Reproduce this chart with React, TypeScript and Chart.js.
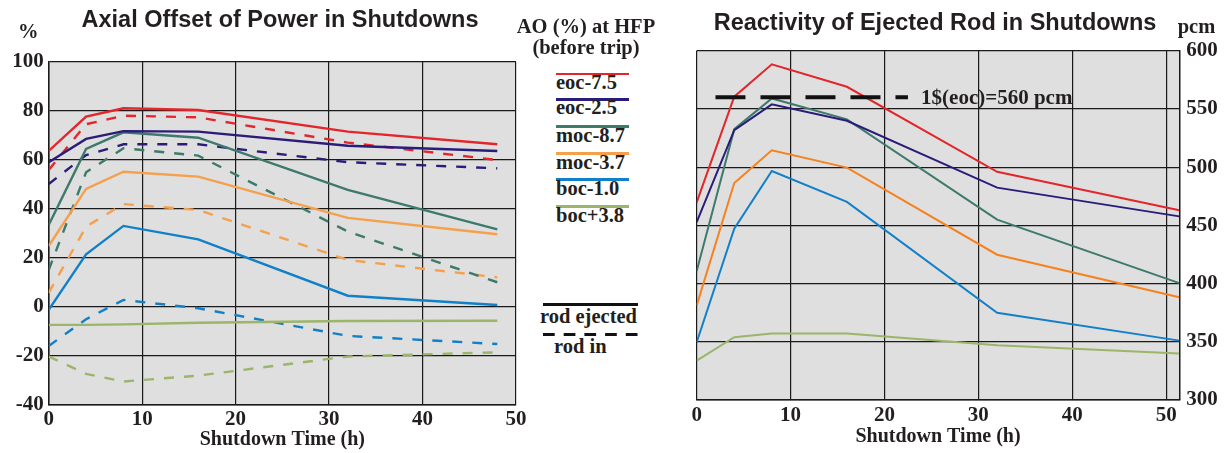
import React, { useEffect, useRef } from "react";
import { Chart, registerables } from "chart.js";

Chart.register(...registerables);

// ---- Axial offset (%) after trip, left panel ----
const hoursAO = [0, 4, 8, 16, 32, 48];

// rod ejected (solid)
const aoEoc75Ejected = [63.7, 77.7, 81.1, 80.4, 71.6, 66.4];
const aoEoc25Ejected = [59.1, 68.6, 71.8, 71.6, 65.8, 63.7];
const aoMoc87Ejected = [33.5, 64.5, 71.3, 69.1, 47.8, 31.7];
const aoMoc37Ejected = [24.9, 48.2, 55.2, 53.2, 36.4, 29.7];
const aoBoc10Ejected = [-1.2, 21.5, 33.1, 27.6, 4.6, 0.8];
const aoBoc38Ejected = [-7.3, -7.3, -7.1, -6.4, -5.7, -5.6];

// rod in (dashed)
const aoEoc75In = [55.9, 74.6, 78.1, 77.4, 67.1, 60.0];
const aoEoc25In = [50.2, 62.0, 66.4, 66.4, 59.1, 56.6];
const aoMoc87In = [15.1, 55.0, 64.8, 61.8, 30.8, 10.1];
const aoMoc37In = [5.8, 32.8, 42.0, 39.6, 19.2, 12.1];
const aoBoc10In = [-15.9, -5.0, 2.9, -0.5, -11.8, -15.1];
const aoBoc38In = [-20.2, -27.3, -30.4, -28.0, -20.2, -18.5];

const aoTicksX = { min: 0, max: 50, step: 10 };
const aoTicksY = { min: -40, max: 100, step: 20 };

// ---- Ejected rod worth (pcm), right panel ----
const hoursRho = [0, 4, 8, 16, 32, 51.4];
const rhoEoc75 = [469.8, 560.5, 588.3, 569.0, 496.0, 463.0];
const rhoEoc25 = [452.8, 531.8, 553.9, 539.8, 482.4, 457.7];
const rhoMoc87 = [410.7, 532.6, 559.0, 541.0, 454.9, 400.4];
const rhoMoc37 = [381.2, 486.4, 514.5, 499.6, 424.8, 388.3];
const rhoBoc10 = [349.6, 447.2, 496.7, 470.1, 374.9, 351.0];
const rhoBoc38 = [333.8, 353.9, 357.2, 357.2, 347.0, 340.0];

const rhoTicksX = { min: 0, max: 51.4, step: 10 };
const rhoTicksY = { min: 300, max: 600, step: 50 };

// one-dollar reference level at end of cycle
const dollarLevel = 560;
const dollarFrom = 2;
const dollarTo = 22.5;
const dollarLabelAt = 23.9;
const dollarLabel = "1$(eoc)=560 pcm";

const legendNames = ["eoc-7.5", "eoc-2.5", "moc-8.7", "moc-3.7", "boc-1.0", "boc+3.8"];

const INK = "#231f20";
const SERIF = "'Liberation Serif', 'Times New Roman', serif";
const SANS = "'Liberation Sans', Arial, sans-serif";

const colorsAO = ["#e3262b", "#2b1c7a", "#3d7a6c", "#f5a04c", "#1180c8", "#9bb56a"];
const colorsRho = ["#e3262b", "#2b1c7a", "#3d7a6c", "#f5821f", "#1180c8", "#9bb56a"];

const plotBackground = {
  id: "plotBackground",
  beforeDraw(chart: any) {
    const { ctx, chartArea } = chart;
    ctx.save();
    ctx.fillStyle = "#dfdfdf";
    ctx.fillRect(chartArea.left, chartArea.top, chartArea.right - chartArea.left, chartArea.bottom - chartArea.top);
    ctx.restore();
  },
};

const dollarText = {
  id: "dollarText",
  afterDatasetsDraw(chart: any) {
    const { ctx, scales } = chart;
    ctx.save();
    ctx.font = `bold 21px ${SERIF}`;
    ctx.fillStyle = INK;
    ctx.textBaseline = "alphabetic";
    ctx.textAlign = "left";
    ctx.fillText(dollarLabel, scales.x.getPixelForValue(dollarLabelAt), scales.y.getPixelForValue(dollarLevel) + 7);
    ctx.restore();
  },
};

function series(xs: number[], ys: number[], color: string, width: number, dash: number[]) {
  return {
    data: xs.map((x, i) => ({ x, y: ys[i] })),
    borderColor: color,
    backgroundColor: color,
    borderWidth: width,
    borderDash: dash,
    pointRadius: 0,
    tension: 0,
    fill: false,
  };
}

const tickFont = { family: SERIF, weight: "bold" as const, size: 21 };
const titleFont = { family: SERIF, weight: "bold" as const, size: 20 };
const gridStyle = { color: "#1a1a1a", lineWidth: 1.2, drawTicks: false };
const borderStyle = { display: true, color: "#1a1a1a", width: 1.5 };

function AxialOffsetChart() {
  const ref = useRef<HTMLCanvasElement>(null);
  useEffect(() => {
    const ejected = [aoEoc75Ejected, aoEoc25Ejected, aoMoc87Ejected, aoMoc37Ejected, aoBoc10Ejected, aoBoc38Ejected];
    const rodIn = [aoEoc75In, aoEoc25In, aoMoc87In, aoMoc37In, aoBoc10In, aoBoc38In];
    const datasets = [
      ...ejected.map((v, i) => series(hoursAO, v, colorsAO[i], 2.4, [])),
      ...rodIn.map((v, i) => series(hoursAO, v, colorsAO[i], 2.4, [10, 10])),
    ];
    const chart = new Chart(ref.current!, {
      type: "line",
      data: { datasets },
      options: {
        animation: false,
        responsive: false,
        events: [],
        layout: { padding: { left: 0, top: 62, right: 19, bottom: 0 } },
        plugins: { legend: { display: false }, tooltip: { enabled: false } },
        scales: {
          x: {
            type: "linear",
            min: aoTicksX.min,
            max: aoTicksX.max,
            ticks: { stepSize: aoTicksX.step, padding: 2, font: tickFont, color: INK },
            grid: gridStyle,
            border: borderStyle,
            title: { display: true, text: "Shutdown Time (h)", font: titleFont, color: INK, padding: { top: 0, bottom: 1 } },
            afterFit: (s: any) => { s.height = 48; },
          },
          y: {
            type: "linear",
            min: aoTicksY.min,
            max: aoTicksY.max,
            ticks: { stepSize: aoTicksY.step, padding: 5, font: tickFont, color: INK },
            grid: gridStyle,
            border: borderStyle,
            afterFit: (s: any) => { s.width = 48.7; },
          },
        },
      } as any,
      plugins: [plotBackground],
    });
    return () => chart.destroy();
  }, []);
  return <canvas ref={ref} width={535} height={453} style={{ position: "absolute", left: 0, top: 0 }} />;
}

function RodWorthChart() {
  const ref = useRef<HTMLCanvasElement>(null);
  useEffect(() => {
    const worth = [rhoEoc75, rhoEoc25, rhoMoc87, rhoMoc37, rhoBoc10, rhoBoc38];
    const datasets = [
      series([dollarFrom, dollarTo], [dollarLevel, dollarLevel], "#111111", 4, [30, 15]),
      ...worth.map((v, i) => series(hoursRho, v, colorsRho[i], 2, [])),
    ];
    const chart = new Chart(ref.current!, {
      type: "line",
      data: { datasets },
      options: {
        animation: false,
        responsive: false,
        events: [],
        layout: { padding: { left: 46.7, top: 50.7, right: 0, bottom: 0 } },
        plugins: { legend: { display: false }, tooltip: { enabled: false } },
        scales: {
          x: {
            type: "linear",
            min: rhoTicksX.min,
            max: rhoTicksX.max,
            ticks: { stepSize: rhoTicksX.step, includeBounds: false, padding: 3.4, font: tickFont, color: INK },
            grid: gridStyle,
            border: borderStyle,
            title: { display: true, text: "Shutdown Time (h)", font: titleFont, color: INK, padding: { top: 0, bottom: 4.3 } },
            afterFit: (s: any) => { s.height = 53; },
          },
          y: {
            type: "linear",
            position: "right",
            min: rhoTicksY.min,
            max: rhoTicksY.max,
            ticks: { stepSize: rhoTicksY.step, padding: 7, font: tickFont, color: INK },
            grid: gridStyle,
            border: borderStyle,
            afterFit: (s: any) => { s.width = 47.7; },
          },
        },
      } as any,
      plugins: [plotBackground, dollarText],
    });
    return () => chart.destroy();
  }, []);
  return <canvas ref={ref} width={577} height={453} style={{ position: "absolute", left: 650, top: 0 }} />;
}

// Text placed by its baseline, with line-height 1
function Txt(props: { x: number; base: number; size: number; sans?: boolean; center?: boolean; children: React.ReactNode }) {
  const { x, base, size, sans, center, children } = props;
  const k = sans ? 0.8465 : 0.8375;
  return (
    <div
      style={{
        position: "absolute",
        left: x,
        top: base - k * size,
        transform: center ? "translateX(-50%)" : undefined,
        fontFamily: sans ? SANS : SERIF,
        fontWeight: "bold",
        fontSize: size,
        lineHeight: `${size}px`,
        whiteSpace: "nowrap",
        color: INK,
      }}
    >
      {children}
    </div>
  );
}

function Legend() {
  const lineYs = [74, 99.5, 126.7, 153.7, 179.7, 206.7];
  return (
    <>
      <Txt x={586} base={32.7} size={20.5} center>AO (%) at HFP</Txt>
      <Txt x={586} base={54.5} size={20.5} center>(before trip)</Txt>
      {legendNames.map((name, i) => (
        <React.Fragment key={name}>
          <div style={{ position: "absolute", left: 556, top: lineYs[i] - 1.25, width: 73, height: 2.5, background: colorsAO[i] }} />
          <Txt x={556} base={lineYs[i] + 15} size={20.5}>{name}</Txt>
        </React.Fragment>
      ))}
      <div style={{ position: "absolute", left: 543, top: 302.5, width: 95, height: 3, background: "#111" }} />
      <Txt x={540} base={323} size={20.5}>rod ejected</Txt>
      <svg style={{ position: "absolute", left: 543, top: 332 }} width={96} height={5}>
        <line x1={0} y1={2.5} x2={96} y2={2.5} stroke="#111" strokeWidth={3} strokeDasharray="11.7 9" />
      </svg>
      <Txt x={554} base={353.3} size={20.5}>rod in</Txt>
    </>
  );
}

export default function App() {
  return (
    <div style={{ position: "fixed", left: 0, top: 0, width: 1227, height: 453, background: "#fff", overflow: "hidden" }}>
      <AxialOffsetChart />
      <RodWorthChart />
      <Txt x={280} base={28.3} size={23.5} sans center>Axial Offset of Power in Shutdowns</Txt>
      <Txt x={18} base={38.3} size={20.5}>%</Txt>
      <Legend />
      <Txt x={935} base={31} size={23.5} sans center>Reactivity of Ejected Rod in Shutdowns</Txt>
      <Txt x={1177.7} base={33.3} size={20.5}>pcm</Txt>
    </div>
  );
}
